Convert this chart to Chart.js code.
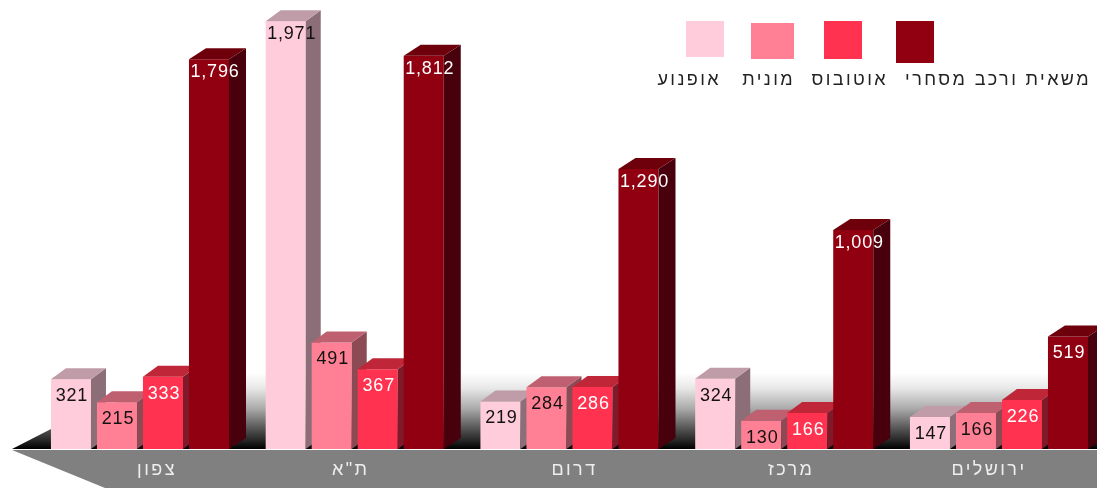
<!DOCTYPE html>
<html lang="he">
<head>
<meta charset="utf-8">
<title>chart</title>
<script src="https://cdn.jsdelivr.net/npm/chart.js@4"></script>
<style>
    html, body { margin: 0; padding: 0; background: #fff; overflow: hidden; }
    canvas { display: block; }
</style>
</head>
<body>
<canvas id="grafico" width="1107" height="488"></canvas>
<script>
const categorias = ['צפון', 'ת"א', 'דרום', 'מרכז', 'ירושלים'];
const nomesSeries = ['אופנוע', 'מונית', 'אוטובוס', 'משאית ורכב מסחרי'];
const valoresAofnoa = [321, 1971, 219, 324, 147];
const valoresMonit = [215, 491, 284, 130, 166];
const valoresAutobus = [333, 367, 286, 166, 226];
const valoresMasait = [1796, 1812, 1290, 1009, 519];

const coresFrente = ['#ffccdc', '#ff8094', '#ff3350', '#900010'];
const coresTopo = ['#bf9ca8', '#bf6070', '#bf2638', '#6e000c'];
const coresLado = ['#8c6e78', '#8c4a55', '#7e1a2a', '#48000c'];
const coresTexto = ['#111', '#111', '#fff', '#fff'];
const profundidade = [15, 15, 15, 17];

// deslocamento dos rotulos do eixo em relacao ao centro do grupo
const ajusteRotulos = [17, -4, 5, 7, -10];

// caixas da legenda: x, y, largura, altura, e borda direita do texto
const caixasLegenda = [
    [686, 21, 38, 36, 721],
    [751, 23, 43, 36, 795],
    [824, 21, 38, 38, 888],
    [896, 21, 38, 42, 1091]
];

const FONTE_VALOR = '18px "Liberation Sans", Arial, sans-serif';
const FONTE_HEBRAICO = '18px "Liberation Sans", Arial, sans-serif';
const ALTURA_3D = 11;

function desenhaFaces(chart, i) {
    const c = chart.ctx;
    const base = chart.scales.y.getPixelForValue(0);
    const dx = profundidade[i];
    chart.getDatasetMeta(i).data.forEach(barra => {
        const esq = barra.x - barra.width / 2;
        const dir = barra.x + barra.width / 2;
        const topo = barra.y;

        c.fillStyle = coresLado[i];
        c.beginPath();
        c.moveTo(dir, topo);
        c.lineTo(dir + dx, topo - ALTURA_3D);
        c.lineTo(dir + dx, base - ALTURA_3D);
        c.lineTo(dir, base);
        c.closePath();
        c.fill();

        c.fillStyle = coresTopo[i];
        c.beginPath();
        c.moveTo(esq, topo);
        c.lineTo(esq + dx, topo - ALTURA_3D);
        c.lineTo(dir + dx, topo - ALTURA_3D);
        c.lineTo(dir, topo);
        c.closePath();
        c.fill();
    });
}

const fundo3d = {
    id: 'fundo3d',
    beforeDraw(chart) {
        const c = chart.ctx;
        const base = chart.scales.y.getPixelForValue(0);
        const w = chart.width;

        // chao com degrade
        const g = c.createLinearGradient(0, 373, 0, base);
        g.addColorStop(0, '#ffffff');
        g.addColorStop(0.2, '#e8e8e8');
        g.addColorStop(0.47, '#aaaaaa');
        g.addColorStop(0.73, '#555555');
        g.addColorStop(0.9, '#222222');
        g.addColorStop(1, '#000000');
        c.fillStyle = g;
        c.beginPath();
        c.moveTo(12, base);
        c.lineTo(51, 429);
        c.lineTo(190, 373);
        c.lineTo(w, 373);
        c.lineTo(w, base);
        c.closePath();
        c.fill();

        // faixa cinza da base
        c.fillStyle = '#808080';
        c.beginPath();
        c.moveTo(12, base + 1);
        c.lineTo(w, base + 1);
        c.lineTo(w, 488);
        c.lineTo(105, 488);
        c.closePath();
        c.fill();
    },
    beforeDatasetsDraw(chart) {
        const c = chart.ctx;
        const x = chart.scales.x;
        c.save();
        c.font = FONTE_HEBRAICO;
        c.letterSpacing = '2.4px';
        c.fillStyle = '#eeeeee';
        c.textAlign = 'center';
        c.textBaseline = 'middle';
        c.direction = 'rtl';
        categorias.forEach((nome, i) => {
            c.fillText(nome, x.getPixelForValue(i) + ajusteRotulos[i], 470);
        });
        c.restore();
    },
    // o Chart.js desenha os datasets do ultimo para o primeiro; aqui precisa ser o contrario
    beforeDatasetDraw() {
        return false;
    },
    afterDatasetsDraw(chart) {
        const c = chart.ctx;
        chart.data.datasets.forEach((ds, i) => {
            chart.getDatasetMeta(i).controller.draw();
            desenhaFaces(chart, i);
        });

        c.save();
        c.textBaseline = 'middle';
        c.textAlign = 'center';

        // valores dentro das barras
        c.font = FONTE_VALOR;
        c.letterSpacing = '0.8px';
        chart.data.datasets.forEach((ds, i) => {
            c.fillStyle = coresTexto[i];
            chart.getDatasetMeta(i).data.forEach((barra, j) => {
                const v = ds.data[j];
                const grande = v >= 1000;
                c.fillText(v.toLocaleString('en-US'), barra.x + (grande ? 6 : 1), barra.y + (grande ? 13 : 17));
            });
        });

        // legenda
        c.font = FONTE_HEBRAICO;
        c.letterSpacing = '2.4px';
        c.direction = 'rtl';
        nomesSeries.forEach((nome, i) => {
            const [lx, ly, lw, lh, ld] = caixasLegenda[i];
            c.fillStyle = coresFrente[i];
            c.fillRect(lx, ly, lw, lh);
            c.fillStyle = '#222';
            c.textAlign = 'right';
            c.fillText(nome, ld, 80);
        });
        c.restore();
    }
};

const listaValores = [valoresAofnoa, valoresMonit, valoresAutobus, valoresMasait];

new Chart(document.getElementById('grafico').getContext('2d'), {
    type: 'bar',
    plugins: [fundo3d],
    data: {
        labels: categorias,
        datasets: listaValores.map((valores, i) => ({
            label: nomesSeries[i],
            data: valores,
            backgroundColor: coresFrente[i],
            borderWidth: 0,
            categoryPercentage: 0.857,
            barPercentage: 0.87
        }))
    },
    options: {
        responsive: false,
        animation: false,
        devicePixelRatio: 1,
        layout: { padding: { left: 32.6, right: 0.65, top: 15, bottom: 39 } },
        scales: {
            x: { display: false },
            y: { display: false, min: 0, max: 2000 }
        },
        plugins: {
            legend: { display: false },
            tooltip: { enabled: false }
        }
    }
});
</script>
</body>
</html>
